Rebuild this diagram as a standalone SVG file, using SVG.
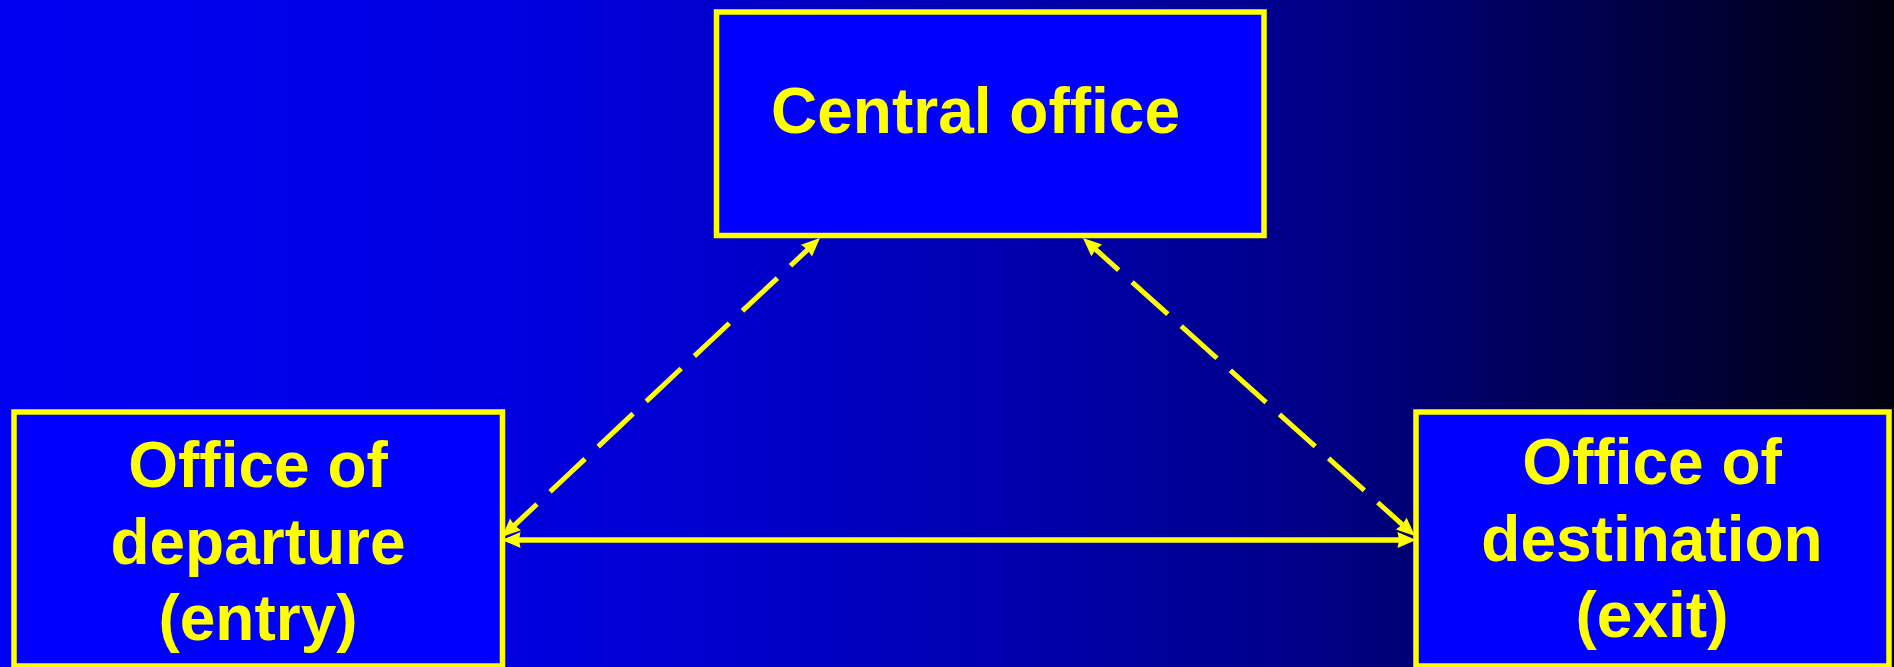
<svg xmlns="http://www.w3.org/2000/svg" width="1894" height="667" viewBox="0 0 1894 667">
<style>
.box{fill:#0000FF;stroke:#FFFF00;stroke-width:5.5}
.lbl{font-family:"Liberation Sans",Arial,sans-serif;font-weight:bold;font-size:64px;fill:#FFFF00}
.mid{text-anchor:middle}
.con{fill:none;stroke:#FFFF00;stroke-width:5.5;stroke-linecap:butt}
.dash{stroke-width:5;stroke-dasharray:48 18;stroke-dashoffset:14}
</style>
<defs>
<linearGradient id="bg" x1="0" y1="0" x2="1894" y2="0" gradientUnits="userSpaceOnUse">
<stop offset="0" stop-color="#0000F2"/>
<stop offset="0.26" stop-color="#0000E2"/>
<stop offset="0.4" stop-color="#0000CA"/>
<stop offset="0.56" stop-color="#0000A8"/>
<stop offset="0.69" stop-color="#000088"/>
<stop offset="0.75" stop-color="#000072"/>
<stop offset="1" stop-color="#00000E"/>
</linearGradient>
<marker id="ah" markerUnits="userSpaceOnUse" markerWidth="40" markerHeight="40" viewBox="-20 -20 40 40" refX="0" refY="0" orient="auto-start-reverse" overflow="visible">
<path d="M14,0 L-4.5,-8 L-3,0 L-4.5,8 Z" fill="#FFFF00"/>
</marker>
</defs>
<rect x="0" y="0" width="1894" height="667" fill="url(#bg)"/>
<g id="connectors">
<line class="con" x1="516" y1="540" x2="1402" y2="540" marker-start="url(#ah)" marker-end="url(#ah)"/>
<line class="con dash" x1="512.2" y1="527.4" x2="809.8" y2="247.6" marker-start="url(#ah)" marker-end="url(#ah)"/>
<line class="con dash" x1="1093.4" y1="247.4" x2="1404.6" y2="526.6" marker-start="url(#ah)" marker-end="url(#ah)"/>
</g>
<g id="central-office">
<rect class="box" x="716.5" y="12" width="547.5" height="223.5"/>
<text class="lbl" x="771" y="133">Central office</text>
</g>
<g id="office-departure">
<rect class="box" x="14" y="412" width="488.5" height="254"/>
<text class="lbl mid" x="258" y="487">Office of</text>
<text class="lbl mid" x="258" y="564">departure</text>
<text class="lbl mid" x="258" y="640">(entry)</text>
</g>
<g id="office-destination">
<rect class="box" x="1416" y="412" width="473" height="254"/>
<text class="lbl mid" x="1652" y="484">Office of</text>
<text class="lbl mid" x="1652" y="561">destination</text>
<text class="lbl mid" x="1652" y="637">(exit)</text>
</g>
</svg>
